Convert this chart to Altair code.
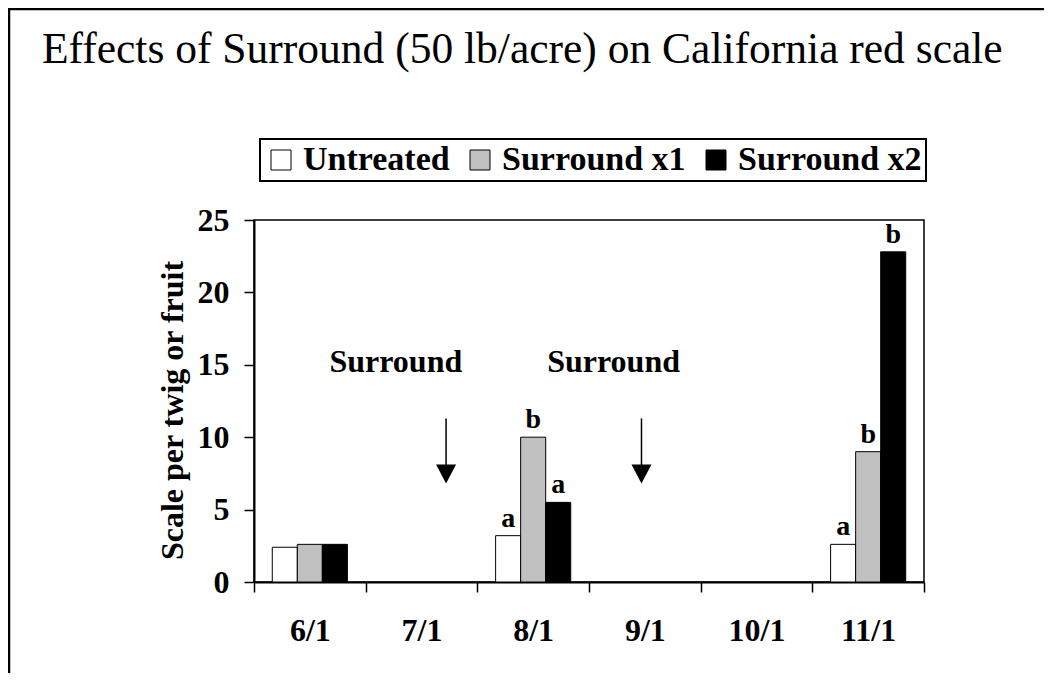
import altair as alt
import pandas as pd

# ---------------- data ----------------
dates = ["6/1", "7/1", "8/1", "9/1", "10/1", "11/1"]
treatments = ["Untreated", "Surround x1", "Surround x2"]
fill_colors = ["#FFFFFF", "#C0C0C0", "#000000"]

sample_dates = ["6/1", "8/1", "11/1"]
untreated = [2.4, 3.2, 2.6]
surround_x1 = [2.6, 10.0, 9.0]
surround_x2 = [2.6, 5.5, 22.8]
letters_untreated = ["", "a", "a"]
letters_x1 = ["", "b", "b"]
letters_x2 = ["", "a", "b"]

y_ticks = [0, 5, 10, 15, 20, 25]

# application annotations (position in month units: 6 = 6/1, 7 = 7/1 ...)
spray_labels = ["Surround", "Surround"]
spray_label_pos = [6.77, 8.72]
spray_label_y = [14.5, 14.5]
arrow_pos = [7.22, 8.97]
arrow_top = [11.3, 11.3]
arrow_line_end = [7.4, 7.4]
arrow_tip = [6.8, 6.8]

title_text = ["Effects of Surround (50 lb/acre) on California red scale"]
y_title = "Scale per twig or fruit"

# ---------------- tables ----------------
rows = []
for series, vals, lets in [
    ("Untreated", untreated, letters_untreated),
    ("Surround x1", surround_x1, letters_x1),
    ("Surround x2", surround_x2, letters_x2),
]:
    for d, v, l in zip(sample_dates, vals, lets):
        rows.append({"date": d, "treatment": series, "value": v, "letter": l})
bars_df = pd.DataFrame(rows)
letters_df = bars_df[bars_df["letter"] != ""]

arrows_df = pd.DataFrame({"pos": arrow_pos, "value": arrow_top, "value2": arrow_line_end})
heads_df = pd.DataFrame({"pos": arrow_pos, "value": arrow_tip})
spray_df = pd.DataFrame({"pos": spray_label_pos, "value": spray_label_y, "label": spray_labels})
title_df = pd.DataFrame({"t": title_text})

FONT = "Liberation Serif"
W, H = 670, 362

y_scale = alt.Scale(domain=[0, 25], nice=False, zero=True)
y_axis = alt.Axis(
    values=y_ticks,
    title=y_title,
    titleFont=FONT,
    titleFontSize=32,
    titleFontWeight="bold",
    titleColor="black",
    titleAngle=270,
    titleBaseline="alphabetic",
    titleAlign="center",
    titleX=-72,
    titleY=190,
    labelFont=FONT,
    labelFontSize=32,
    labelFontWeight="bold",
    labelColor="black",
    labelPadding=15,
    tickSize=10,
    grid=False,
)

x_enc = alt.X(
    "date:N",
    scale=alt.Scale(domain=dates, paddingInner=0, paddingOuter=0),
    axis=alt.Axis(
        title=None,
        labelAngle=0,
        tickBand="extent",
        labelFont=FONT,
        labelFontSize=32,
        labelFontWeight="bold",
        labelColor="black",
        labelPadding=23,
        tickSize=10,
        grid=False,
    ),
)
xoff_enc = alt.XOffset(
    "treatment:N",
    scale=alt.Scale(domain=treatments, paddingInner=0, paddingOuter=0.73),
)

bars = alt.Chart(bars_df).mark_bar(stroke="black", strokeWidth=1).encode(
    x=x_enc,
    xOffset=xoff_enc,
    y=alt.Y("value:Q", scale=y_scale, axis=y_axis),
    color=alt.Color(
        "treatment:N",
        scale=alt.Scale(domain=treatments, range=fill_colors),
        legend=alt.Legend(
            title=None,
            orient="none",
            direction="horizontal",
            legendX=6,
            legendY=-81,
            symbolType="square",
            symbolSize=400,
            symbolStrokeColor="black",
            symbolStrokeWidth=1,
            symbolOpacity=1,
            labelFont=FONT,
            labelFontSize=34,
            labelFontWeight="bold",
            labelColor="black",
            labelOffset=5,
            labelLimit=0,
            columnPadding=13,
            strokeColor="black",
            padding=4,
        ),
    ),
)

letters = alt.Chart(letters_df).mark_text(
    font=FONT, fontSize=28, fontWeight="bold", color="black", dy=-9, baseline="alphabetic"
).encode(
    x=x_enc,
    xOffset=xoff_enc,
    y=alt.Y("value:Q", scale=y_scale, axis=y_axis),
    text="letter:N",
)

main = alt.layer(bars, letters)

x_ann = alt.X("pos:Q", scale=alt.Scale(domain=[5.5, 11.5], nice=False, zero=False), axis=None)

arrow_lines = alt.Chart(arrows_df).mark_rule(color="black", strokeWidth=1.5).encode(
    x=x_ann,
    y=alt.Y("value:Q", scale=y_scale, axis=y_axis),
    y2="value2:Q",
)
arrow_heads = alt.Chart(heads_df).mark_point(
    shape="M-1,-1.9L1,-1.9L0,0Z", size=400, filled=True, color="black", opacity=1
).encode(
    x=x_ann,
    y=alt.Y("value:Q", scale=y_scale, axis=y_axis),
)
spray_text = alt.Chart(spray_df).mark_text(
    font=FONT, fontSize=32, fontWeight="bold", color="black", baseline="alphabetic", align="center"
).encode(
    x=x_ann,
    y=alt.Y("value:Q", scale=y_scale, axis=y_axis),
    text="label:N",
)

frame_df = pd.DataFrame({"k": [0]})
frame_left = alt.Chart(frame_df).mark_rule(color="black", strokeWidth=2.5).encode(
    x=alt.value(-245), y=alt.value(-215), y2=alt.value(460)
)
frame_top = alt.Chart(frame_df).mark_rule(color="black", strokeWidth=2.5).encode(
    x=alt.value(-246), x2=alt.value(800), y=alt.value(-211)
)
title = alt.Chart(title_df).mark_text(
    font=FONT, fontSize=43.5, color="black", align="left", baseline="alphabetic"
).encode(x=alt.value(-212), y=alt.value(-157), text="t:N")

annot = alt.layer(arrow_lines, arrow_heads, spray_text, frame_left, frame_top, title)

chart = (
    alt.layer(main, annot)
    .resolve_scale(x="independent")
    .properties(
        width=W,
        height=H,
        autosize=alt.AutoSizeParams(type="none"),
        padding={"left": 246, "top": 212, "right": 120, "bottom": 91},
    )
    .configure_view(stroke="black", strokeWidth=1.5)
    .configure_axis(
        domainColor="black",
        domainWidth=2,
        tickColor="black",
        tickWidth=1.5,
    )
    .configure_legend(strokeWidth=2)
)

chart.save("out.html", embed_options={"renderer": "svg", "actions": False})
